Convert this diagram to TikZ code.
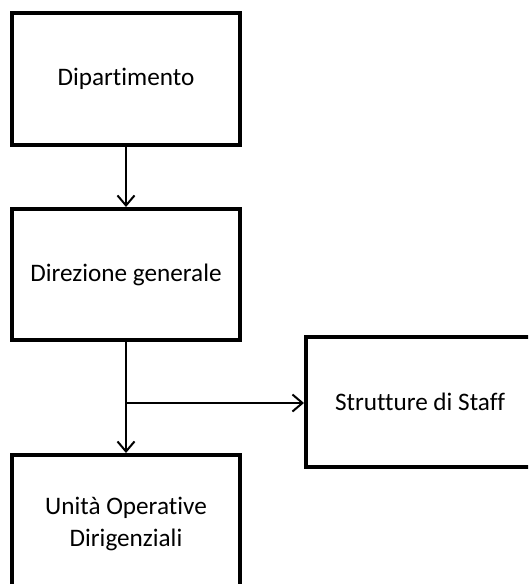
\documentclass[tikz,border=0pt]{standalone}
\usepackage{fontspec}
\setmainfont[Ligatures=CommonOff]{Carlito}
\usetikzlibrary{arrows.meta}
\begin{document}
\begin{tikzpicture}[x=1pt,y=-1pt,
  orgbox/.style={draw=black, line width=4pt, fill=white, minimum width=228pt, inner sep=0pt,
    align=center, font=\fontsize{25.2pt}{32pt}\selectfont},
  conn/.style={draw=black, line width=2pt},
  arr/.style={conn, -{Straight Barb[length=10pt,width=17pt,line width=2pt]}}]
\useasboundingbox (0,0) rectangle (528,584);
\clip (0,0) rectangle (528,584);
\fill[white] (0,0) rectangle (528,584);
\node[orgbox, minimum height=132pt] (dip) at (126,79) {Dipartimento};
\node[orgbox, minimum height=131pt] (dir) at (126,274.5) {Direzione generale};
\node[orgbox, minimum height=138pt] (uod) at (126,524) {Unità Operative\\Dirigenziali};
\node[orgbox, minimum height=130pt] (sta) at (420,402) {Strutture di Staff};
\coordinate (br) at (126,403);
\draw[arr] (dip.south) -- (dir.north);
\draw[arr] (dir.south) -- (uod.north);
\draw[arr] (br) -- (br -| sta.west);
\end{tikzpicture}
\end{document}
